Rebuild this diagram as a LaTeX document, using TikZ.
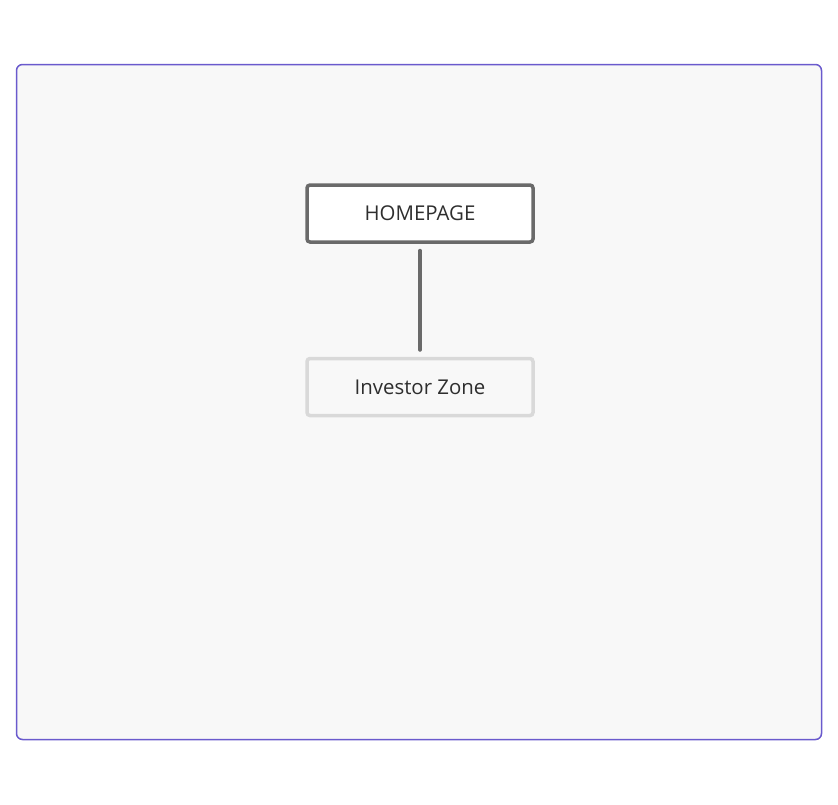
\documentclass[tikz,border=0pt]{standalone}
\usepackage{fontspec}
\setmainfont{Open Sans}
\usetikzlibrary{positioning}
\definecolor{frameblue}{HTML}{6A5ACD}
\definecolor{canvas}{HTML}{F8F8F8}
\definecolor{darkline}{HTML}{6A6A6A}
\definecolor{lightline}{HTML}{D9D9D9}
\definecolor{ink}{HTML}{2E2E2E}

\begin{document}
\begin{tikzpicture}[x=1pt,y=-1pt,shorten >=7pt,shorten <=7pt,
                    node distance=173.5pt,font=\fontsize{20.4}{24}\selectfont]
  \tikzstyle{every page}=[minimum width=226pt,minimum height=57pt,
                          rounded corners=3pt,line width=3.5pt,text=ink]
  \tikzstyle{root}=[every page,draw=darkline,fill=white]
  \tikzstyle{child}=[every page,draw=lightline,fill=canvas]

  \useasboundingbox (0,0) rectangle (838,804);
  \draw[frameblue,fill=canvas,line width=1.5pt,rounded corners=6pt]
    (16.5,64.5) rectangle (821.5,739.5);

  \node[root]  (home) at (420,213.5)     {HOMEPAGE};
  \node[child] (investor) [below of=home] {Investor Zone};

  \path (home) edge [darkline,line width=4pt,line cap=round] (investor);
\end{tikzpicture}
\end{document}
